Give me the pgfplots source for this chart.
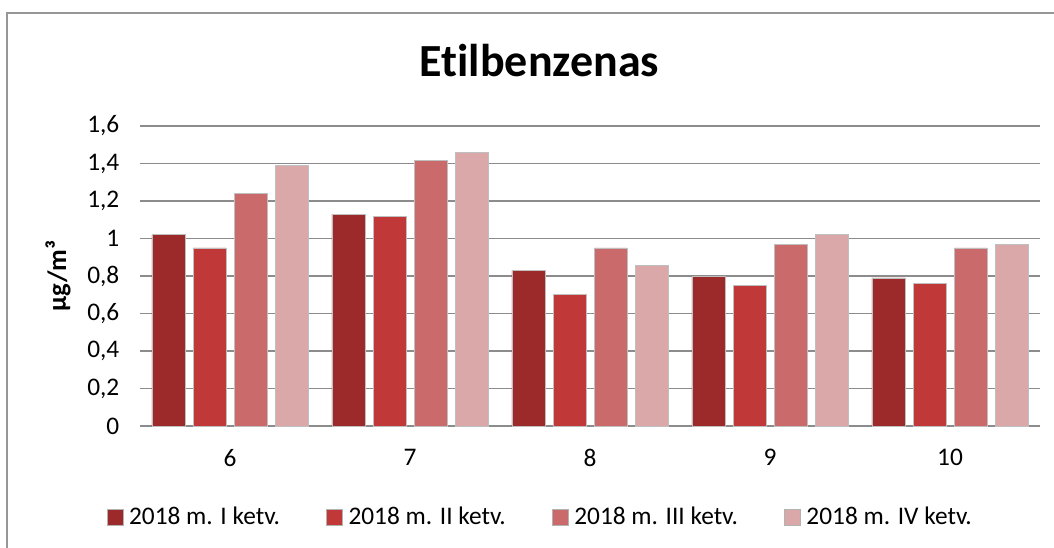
\documentclass[border=0pt]{standalone}
\usepackage{pgfplots}
\pgfplotsset{compat=1.18}
\usepackage{fontspec}
\setmainfont{Carlito}[Ligatures=NoCommon]
\definecolor{cA}{HTML}{9C2A2A}
\definecolor{cB}{HTML}{C03838}
\definecolor{cC}{HTML}{CA6A6A}
\definecolor{cD}{HTML}{DAA8A8}
\definecolor{gridc}{HTML}{8C8C8C}
\begin{document}
\begin{tikzpicture}[x=1pt,y=1pt]
\clip (0,0) rectangle (790.5,410.25);
\fill[white] (0,0) rectangle (790.5,410.25);
\draw[gridc!90, line width=1.5pt] (5.25,-10) -- (5.25,400.5) -- (800,400.5);
\node[anchor=base, font=\fontsize{34.5}{40}\selectfont\bfseries] at (404.6,352.5) {Etilbenzenas};
\begin{axis}[
  at={(105pt,90.75pt)}, anchor=south west,
  scale only axis, width=675pt, height=225pt,
  xmin=-0.5, xmax=4.5, ymin=0, ymax=1.6,
  xtick={0,1,2,3,4}, xticklabels={6,7,8,9,10},
  ytick={0,0.2,...,1.6},
  /pgf/number format/assume math mode=true,
  /pgf/number format/use comma,
  /pgf/number format/fixed,
  /pgf/number format/precision=1,
  tick label style={font=\fontsize{19}{22}\selectfont},
  xticklabel style={yshift=-14pt},
  yticklabel style={xshift=-12pt},
  major tick length=0pt,
  axis line style={draw=none},
  ymajorgrids, grid style={gridc, line width=0.9pt},
  ylabel={\textbf{μg/m³}},
  ylabel style={font=\fontsize{20}{22}\selectfont, at={(axis description cs:-0.091,0.5)}, anchor=center},
  legend columns=4,
  legend style={draw=none, fill=none, at={(axis description cs:0.445,-0.303)}, anchor=center,
     font=\fontsize{19}{22}\selectfont,
     /tikz/every odd column/.append style={column sep=2.5pt},
     /tikz/every even column/.append style={column sep=32.5pt}},
  legend image code/.code={\draw[#1, draw=gray!60] (0pt,-6pt) rectangle (12pt,6pt);},
  bar width=0.1833,
]
\addplot[ybar, bar shift=-0.3417, fill=cA, draw=gray!50]
  coordinates {(0,1.02) (1,1.13) (2,0.83) (3,0.80) (4,0.79)};
\addplot[ybar, bar shift=-0.1139, fill=cB, draw=gray!50]
  coordinates {(0,0.95) (1,1.12) (2,0.70) (3,0.75) (4,0.76)};
\addplot[ybar, bar shift=0.1139, fill=cC, draw=gray!50]
  coordinates {(0,1.24) (1,1.415) (2,0.95) (3,0.97) (4,0.95)};
\addplot[ybar, bar shift=0.3417, fill=cD, draw=gray!50]
  coordinates {(0,1.39) (1,1.46) (2,0.855) (3,1.02) (4,0.97)};
\legend{2018 m. I ketv., 2018 m. II ketv., 2018 m. III ketv., 2018 m. IV ketv.}
\end{axis}
\end{tikzpicture}
\end{document}
